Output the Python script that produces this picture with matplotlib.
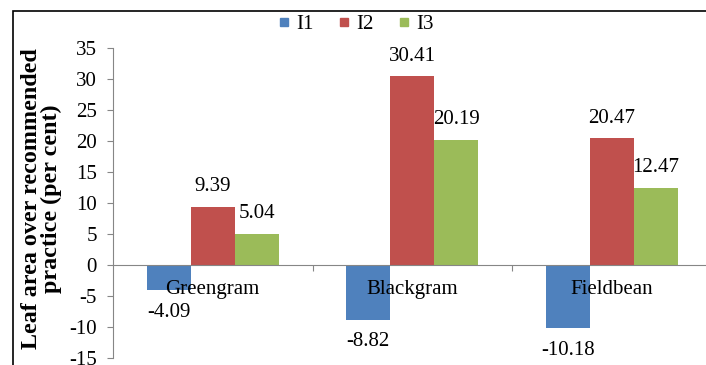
import matplotlib.pyplot as plt
from matplotlib.lines import Line2D
from matplotlib.patches import Rectangle
import numpy as np

plt.rcParams['font.family'] = ['Liberation Serif', 'DejaVu Serif']
plt.rcParams['axes.unicode_minus'] = False

crops = ['Greengram', 'Blackgram', 'Fieldbean']
series = ['I1', 'I2', 'I3']
i1 = [-4.09, -8.82, -10.18]
i2 = [9.39, 30.41, 20.47]
i3 = [5.04, 20.19, 12.47]
colors = ['#4F81BD', '#C0504D', '#9BBB59']
yticks = [35, 30, 25, 20, 15, 10, 5, 0, -5, -10, -15]

fig = plt.figure(figsize=(7.06, 3.65), dpi=100)
W, H = 706, 365
ax = fig.add_axes([113 / W, 1 - 358 / H, 598.5 / W, 310 / H])

x = np.arange(len(crops))
bw = 0.22
fs = 15
for k, (vals, c) in enumerate(zip([i1, i2, i3], colors)):
    pos = x + (k - 1) * bw
    ax.bar(pos, vals, bw, color=c, zorder=2)
    for px, v in zip(pos, vals):
        off = 20 if v >= 0 else -22
        ax.annotate(f'{v:.2f}', (px, v), xytext=(0, off), textcoords='offset pixels',
                    ha='center', va='center', fontsize=fs)

ax.set_xlim(-0.5, 2.5)
ax.set_ylim(-15, 35)
ax.set_yticks(yticks)
ax.tick_params(axis='y', direction='out', length=4.5, color='#868686', pad=7, labelsize=fs)
ax.set_xticks([0.5, 1.5])
ax.set_xticklabels([])
ax.tick_params(axis='x', direction='out', length=4.5, color='#868686')

for s in ['top', 'right']:
    ax.spines[s].set_visible(False)
ax.spines['left'].set_color('#868686')
ax.spines['bottom'].set_color('#868686')
ax.spines['bottom'].set_position(('data', 0))
ax.spines['bottom'].set_zorder(3)

for xi, name in zip(x, crops):
    ax.text(xi, -4.0, name, ha='center', va='center', fontsize=fs, zorder=4)

fig.text(41.5 / W, 1 - 198.5 / H, 'Leaf area over recommended\npractice (per cent)',
         rotation=90, ha='center', va='center', fontsize=17.3, fontweight='bold',
         multialignment='center', linespacing=0.95)

handles = [Line2D([], [], marker='s', linestyle='none', markersize=6, color=c) for c in colors]
fig.legend(handles, series, loc='center', bbox_to_anchor=(356 / W, 1 - 24 / H), ncol=3,
           frameon=False, fontsize=fs, handlelength=0.6, handletextpad=0.3,
           columnspacing=1.15, borderaxespad=0, borderpad=0)

fig.patches.append(Rectangle((13 / W, -0.1), 1.2, 1.1 - 11 / H, transform=fig.transFigure,
                             fill=False, edgecolor='black', linewidth=1.2))

fig.savefig('out.png', dpi=100)
